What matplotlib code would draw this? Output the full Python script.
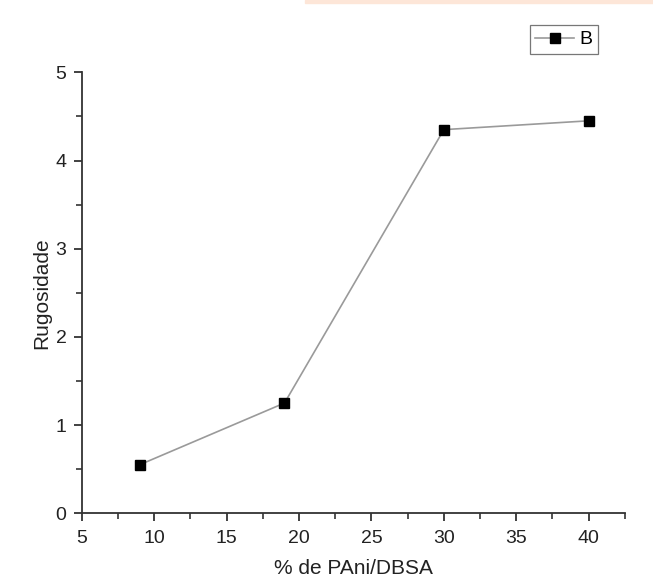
import matplotlib
matplotlib.use("Agg")
import matplotlib.pyplot as plt
from matplotlib.ticker import MultipleLocator
from matplotlib.patches import Rectangle

x_values = [9, 19, 30, 40]
y_values = [0.55, 1.25, 4.35, 4.45]
series_name = "B"
x_label = "% de PAni/DBSA"
y_label = "Rugosidade"

plt.rcParams['font.family'] = ['Liberation Sans', 'DejaVu Sans']

fig = plt.figure(figsize=(6.53, 5.85), dpi=100)
fig.patches.append(Rectangle((305/653, 1-3/585), 1, 3/585, transform=fig.transFigure,
                             color='#fde6d8', zorder=0))
ax = fig.add_axes([0.1251, 0.1226, 0.957-0.1251, 0.8764-0.1226])

ax.plot(x_values, y_values, color='#9a9a9a', lw=1.2, marker='s', markersize=7.5,
        markerfacecolor='black', markeredgecolor='black', label=series_name)

ax.set_xlim(5, 42.5)
ax.set_ylim(0, 5)
ax.xaxis.set_major_locator(MultipleLocator(5))
ax.xaxis.set_minor_locator(MultipleLocator(2.5))
ax.yaxis.set_major_locator(MultipleLocator(1))
ax.yaxis.set_minor_locator(MultipleLocator(0.5))
for s in ['top', 'right']:
    ax.spines[s].set_visible(False)
for s in ['left', 'bottom']:
    ax.spines[s].set_color('#333333')
    ax.spines[s].set_linewidth(1.3)
ax.tick_params(which='major', direction='out', length=6, width=1.3, colors='#333333',
               labelsize=14, labelcolor='#222222')
ax.tick_params(axis='x', which='major', pad=6)
ax.tick_params(axis='y', which='major', pad=5)
ax.tick_params(which='minor', direction='out', length=4, width=1.2, colors='#333333')

ax.set_xlabel(x_label, fontsize=15, color='#222222', labelpad=9)
ax.set_ylabel(y_label, fontsize=15, color='#222222', labelpad=3)

leg = ax.legend(loc='upper right', bbox_to_anchor=(598/653, 1-25/585), bbox_transform=fig.transFigure,
                frameon=True, fancybox=False, fontsize=14, handlelength=2.0,
                handletextpad=0.25, borderpad=0.3, borderaxespad=0)
leg.get_frame().set_edgecolor('#555555')
leg.get_frame().set_linewidth(0.9)

fig.savefig("out.png", dpi=100)
